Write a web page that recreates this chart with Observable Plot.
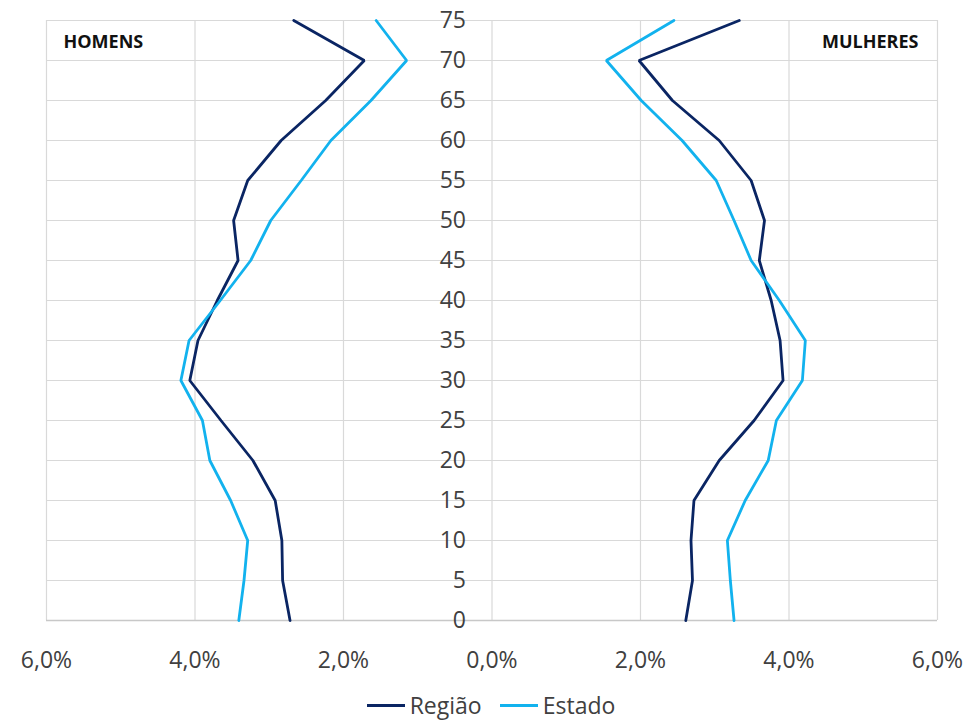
<!DOCTYPE html>
<html>
<head>
<meta charset="utf-8">
<script src="https://cdn.jsdelivr.net/npm/d3@7"></script>
<script src="https://cdn.jsdelivr.net/npm/@observablehq/plot@0.6"></script>
<style>
  html, body { margin: 0; padding: 0; background: #fff; }
  #chart { width: 978px; }
  .legend { display: flex; justify-content: center; align-items: center; font-family: "Open Sans", sans-serif; font-size: 23px; color: #404040; height: 40px; margin-left: 4px; }
  .legend .item { display: flex; align-items: center; margin: 0 9px; }
  .legend .sw { width: 38px; height: 3px; margin-right: 5px; }
</style>
</head>
<body>
<div id="chart"></div>
<script>
const ages = [0, 5, 10, 15, 20, 25, 30, 35, 40, 45, 50, 55, 60, 65, 70, 75];
const xTicks = [-6, -4, -2, 0, 2, 4, 6];
const seriesNames = ["Região", "Estado"];
const seriesColors = ["#0a2563", "#12b2ee"];
const panelLabels = ["HOMENS", "MULHERES"];

// percent of population per age (men shown on the left)
const homensRegiao = [2.72, 2.82, 2.83, 2.92, 3.22, 3.65, 4.07, 3.96, 3.70, 3.42, 3.48, 3.29, 2.84, 2.24, 1.72, 2.67];
const homensEstado = [3.41, 3.34, 3.29, 3.52, 3.80, 3.90, 4.19, 4.08, 3.66, 3.25, 2.98, 2.57, 2.17, 1.63, 1.15, 1.56];
const mulheresRegiao = [2.61, 2.70, 2.68, 2.72, 3.06, 3.53, 3.92, 3.88, 3.76, 3.60, 3.67, 3.49, 3.06, 2.43, 1.98, 3.33];
const mulheresEstado = [3.26, 3.21, 3.17, 3.41, 3.72, 3.83, 4.18, 4.22, 3.87, 3.49, 3.26, 3.02, 2.56, 2.01, 1.54, 2.45];

function build(values, sign, serie) {
  return ages.map((a, i) => ({age: a, x: sign * values[i], serie}));
}
const rows = [
  {data: build(homensRegiao, -1, seriesNames[0]), color: seriesColors[0]},
  {data: build(homensEstado, -1, seriesNames[1]), color: seriesColors[1]},
  {data: build(mulheresRegiao, 1, seriesNames[0]), color: seriesColors[0]},
  {data: build(mulheresEstado, 1, seriesNames[1]), color: seriesColors[1]}
];

const fmt = d => Math.abs(d).toFixed(1).replace(".", ",") + "%";

const chart = Plot.plot({
  width: 978,
  height: 685,
  marginLeft: 46,
  marginRight: 41,
  marginTop: 20,
  marginBottom: 65,
  style: {fontFamily: "'Open Sans', sans-serif", background: "#fff"},
  x: {domain: [-6, 6], ticks: xTicks},
  y: {domain: [0, 75], axis: null},
  marks: [
    Plot.gridX(xTicks, {stroke: "#d9d9d9", strokeOpacity: 1, strokeWidth: 1.2}),
    Plot.gridY(ages, {stroke: "#d9d9d9", strokeOpacity: 1, strokeWidth: 1.2}),
    Plot.ruleY([0], {stroke: "#c8c8c8", strokeWidth: 1.5}),
    Plot.axisX(xTicks, {tickSize: 0, tickPadding: 31, tickFormat: fmt, fontSize: 23, fill: "#404040", label: null}),
    Plot.text(ages, {x: 0, y: d => d, text: d => String(d), textAnchor: "end", dx: -26, fontSize: 23, fill: "#404040"}),
    ...rows.map(r => Plot.line(r.data, {x: "x", y: "age", stroke: r.color, strokeWidth: 2.8, strokeLinejoin: "miter"})),
    Plot.text([panelLabels[0]], {frameAnchor: "top-left", text: d => d, dx: 17, dy: 22, lineAnchor: "middle", textAnchor: "start", fontSize: 18, fontWeight: "bold", fill: "#111"}),
    Plot.text([panelLabels[1]], {frameAnchor: "top-right", text: d => d, dx: -19, dy: 22, lineAnchor: "middle", textAnchor: "end", fontSize: 18, fontWeight: "bold", fill: "#111"})
  ]
});
document.getElementById("chart").appendChild(chart);

const legend = document.createElement("div");
legend.className = "legend";
seriesNames.forEach((n, i) => {
  const it = document.createElement("div");
  it.className = "item";
  const sw = document.createElement("span");
  sw.className = "sw";
  sw.style.background = seriesColors[i];
  const t = document.createElement("span");
  t.textContent = n;
  it.appendChild(sw); it.appendChild(t);
  legend.appendChild(it);
});
document.getElementById("chart").appendChild(legend);
</script>
</body>
</html>
